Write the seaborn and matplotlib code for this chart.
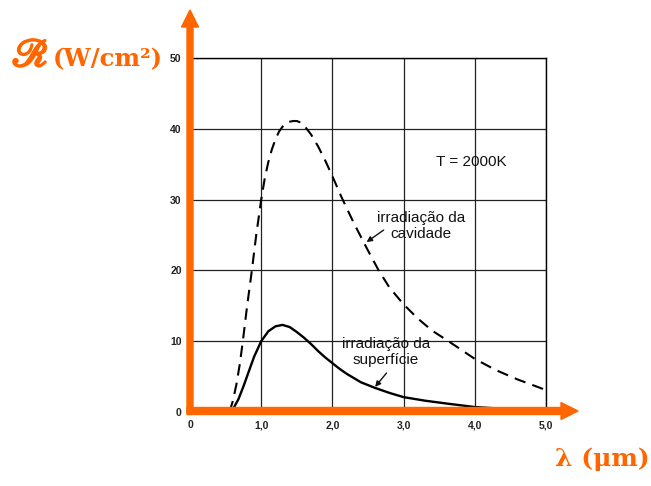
import matplotlib
matplotlib.use("Agg")
import numpy as np
import pandas as pd
import matplotlib.pyplot as plt
import seaborn as sns
from matplotlib.patches import FancyArrow
from matplotlib.transforms import IdentityTransform
import matplotlib.patheffects as pe

# ---- data ----
cav_lambda = [0.554, 0.60, 0.65, 0.70, 0.742, 0.80, 0.869, 0.93, 1.00, 1.05, 1.10, 1.15, 1.20,
              1.25, 1.30, 1.35, 1.40, 1.45, 1.50, 1.55, 1.60, 1.70, 1.80, 1.90, 2.00, 2.13,
              2.30, 2.50, 2.65, 2.80, 3.00, 3.20, 3.40, 3.66, 4.00, 4.30, 4.60, 5.00]
cav_R = [0.0, 1.5, 3.8, 6.8, 10.0, 14.8, 20.0, 25.0, 30.0, 33.0, 35.3, 37.1, 38.5,
         39.6, 40.3, 40.8, 41.0, 41.1, 41.1, 40.9, 40.5, 39.2, 37.5, 35.5, 33.3, 30.3,
         26.7, 22.8, 20.0, 17.6, 15.2, 13.2, 11.5, 9.8, 7.5, 5.9, 4.6, 3.1]

sup_lambda = [0.56, 0.62, 0.68, 0.75, 0.80, 0.90, 1.00, 1.10, 1.20, 1.30, 1.40, 1.50,
              1.60, 1.70, 1.80, 1.90, 2.00, 2.10, 2.20, 2.40, 2.60, 2.80, 3.00, 3.30,
              3.60, 4.00, 4.40]
sup_R = [0.0, 0.7, 1.8, 3.6, 5.0, 7.8, 10.0, 11.4, 12.1, 12.3, 12.0, 11.3,
         10.5, 9.6, 8.6, 7.7, 6.9, 6.1, 5.4, 4.2, 3.4, 2.7, 2.1, 1.6,
         1.2, 0.7, 0.45]

x_ticks = [0, 1, 2, 3, 4, 5]
x_tick_labels = ["0", "1,0", "2,0", "3,0", "4,0", "5,0"]
y_ticks = [0, 10, 20, 30, 40, 50]
y_tick_labels = ["0", "10", "20", "30", "40", "50"]

ORANGE = "#FF6600"

sns.set_theme(style="white")
plt.rcParams["font.family"] = ["Liberation Sans", "DejaVu Sans"]

fig = plt.figure(figsize=(6.51, 4.86), dpi=100)
ax = fig.add_axes([190 / 651, 74 / 486, 356 / 651, 354 / 486])

df_cav = pd.DataFrame({"lam": cav_lambda, "R": cav_R})
df_sup = pd.DataFrame({"lam": sup_lambda, "R": sup_R})

sns.lineplot(data=df_cav, x="lam", y="R", ax=ax, color="black", lw=1.5,
             dashes=False, linestyle=(0, (5.5, 3.5)), sort=False)
sns.lineplot(data=df_sup, x="lam", y="R", ax=ax, color="black", lw=1.7, sort=False)

ax.set_xlim(0, 5)
ax.set_ylim(0, 50)
ax.set_xticks(x_ticks)
ax.set_xticklabels(x_tick_labels, weight="bold")
ax.set_yticks(y_ticks)
ax.set_yticklabels(y_tick_labels, weight="bold")
ax.tick_params(axis="both", length=0, labelsize=7.5, colors="#222222")
ax.tick_params(axis="x", pad=6)
ax.tick_params(axis="y", pad=6)
ax.set_xlabel("")
ax.set_ylabel("")
ax.grid(True, color="#222222", lw=0.9)
for s in ax.spines.values():
    s.set_color("black")
    s.set_linewidth(1.0)

# annotations
ax.text(3.95, 35.35, "T = 2000K", ha="center", va="center", fontsize=11, color="#111111")
ax.text(3.24, 26.3, "irradiação da\ncavidade", ha="center", va="center", fontsize=11,
        color="#111111", linespacing=1.15)
ax.annotate("", xy=(2.48, 24.0), xytext=(2.72, 25.7),
            arrowprops=dict(arrowstyle="-|>", color="#111111", lw=1.0,
                            mutation_scale=8, shrinkA=0, shrinkB=0))
ax.text(2.75, 8.45, "irradiação da\nsuperfície", ha="center", va="center", fontsize=11,
        color="#111111", linespacing=1.15)
ax.annotate("", xy=(2.60, 3.55), xytext=(2.76, 5.5),
            arrowprops=dict(arrowstyle="-|>", color="#111111", lw=1.0,
                            mutation_scale=8, shrinkA=0, shrinkB=0))

# orange axis arrows (display pixel coordinates)
idt = IdentityTransform()
va_arrow = FancyArrow(190, 72, 0, 404, width=6, head_width=17, head_length=17,
                      length_includes_head=True, color=ORANGE, transform=idt, zorder=10)
ha_arrow = FancyArrow(187, 75, 391, 0, width=7, head_width=17, head_length=17,
                      length_includes_head=True, color=ORANGE, transform=idt, zorder=10)
fig.add_artist(va_arrow)
fig.add_artist(ha_arrow)

# axis titles
fig.text(12 / 651, 1 - 66 / 486, "ℛ", fontsize=28, color=ORANGE,
         family=["STIXGeneral", "DejaVu Sans"], ha="left", va="baseline",
         path_effects=[pe.withStroke(linewidth=1.6, foreground=ORANGE)])
fig.text(53 / 651, 1 - 66 / 486, "(W/cm²)", fontsize=17.5, color=ORANGE,
         family=["DejaVu Serif"], weight="bold", ha="left", va="baseline")
fig.text(650 / 651, 1 - 466 / 486, "λ (μm)", fontsize=18, color=ORANGE,
         family=["DejaVu Serif"], weight="bold", ha="right", va="baseline")

fig.savefig("out.png", dpi=100)
